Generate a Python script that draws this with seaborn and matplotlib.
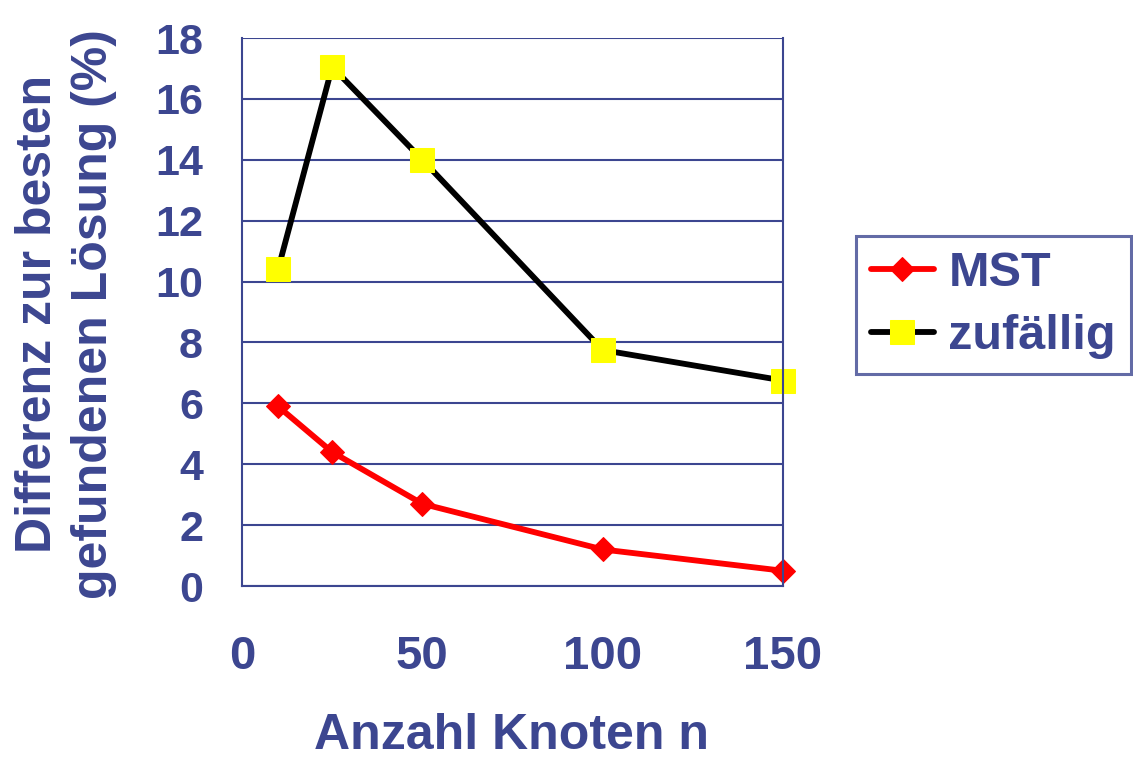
import matplotlib
matplotlib.use("Agg")
import matplotlib.pyplot as plt
import seaborn as sns
import pandas as pd

# ---- data ----
knoten = [10, 25, 50, 100, 150]
mst = [5.9, 4.4, 2.7, 1.2, 0.5]
zufaellig = [10.4, 17.05, 14.0, 7.75, 6.75]
series_names = ["MST", "zufällig"]
x_ticks = [0, 50, 100, 150]
y_ticks = list(range(0, 19, 2))

df = pd.DataFrame({
    "n": knoten * 2,
    "diff": mst + zufaellig,
    "serie": [series_names[0]] * len(knoten) + [series_names[1]] * len(knoten),
})

sns.set_style("white")
plt.rcParams["font.family"] = ["Liberation Sans", "DejaVu Sans"]
plt.rcParams["font.weight"] = "bold"

BLUE = "#3C4690"

fig = plt.figure(figsize=(11.33, 7.6), dpi=100)
ax = fig.add_axes([242 / 1133, 1 - 586 / 760, (783 - 242) / 1133, (586 - 38) / 760])

styles = {
    "MST": dict(color="#FF0000", marker="D", markersize=12.5, markerfacecolor="#FF0000",
                markeredgecolor="#FF0000", linewidth=4.2),
    "zufällig": dict(color="#000000", marker="s", markersize=17, markerfacecolor="#FFFF00",
                     markeredgecolor="#FFFF00", linewidth=4.2),
}
for name in series_names:
    sub = df[df["serie"] == name]
    sns.lineplot(data=sub, x="n", y="diff", ax=ax, label=name, **styles[name])

for ln in ax.get_lines():
    ln.set_clip_on(False)

ax.set_xlim(0, 150)
ax.set_ylim(0, 18)
ax.set_xticks(x_ticks)
ax.set_yticks(y_ticks)
ax.yaxis.grid(True, color=BLUE, linewidth=1.5)
ax.xaxis.grid(False)
for side in ["left", "bottom", "right"]:
    ax.spines[side].set_visible(True)
    ax.spines[side].set_color(BLUE)
    ax.spines[side].set_linewidth(1.5)
ax.spines["top"].set_visible(False)

ax.tick_params(axis="both", direction="out", length=11, width=1.5, color=BLUE,
               labelcolor=BLUE)
ax.tick_params(axis="y", labelsize=31, pad=17)
ax.tick_params(axis="x", labelsize=34, pad=24)
for lab in ax.get_xticklabels() + ax.get_yticklabels():
    lab.set_fontweight("bold")

ax.set_xlabel("")
ax.set_ylabel("")

fig.text(512 / 1133, 1 - 759 / 760, "Anzahl Knoten n", ha="center", va="bottom",
         fontsize=36, fontweight="bold", color=BLUE)

fig.text(66 / 1133, 1 - 314 / 760, "Differenz zur besten\ngefundenen Lösung (%)",
         rotation=90, ha="center", va="center", multialignment="center",
         fontsize=36, fontweight="bold", color=BLUE, linespacing=1.3)

leg = ax.legend(loc="upper left", bbox_to_anchor=(856 / 1133, 1 - 236 / 760),
                bbox_transform=fig.transFigure, frameon=True, fancybox=False,
                fontsize=35, handlelength=1.3, handletextpad=0.3, labelspacing=0.38,
                borderpad=0.3, borderaxespad=0)
frame = leg.get_frame()
frame.set_edgecolor(BLUE)
frame.set_linewidth(2.2)
for t in leg.get_texts():
    t.set_color(BLUE)
    t.set_fontweight("bold")

fig.savefig("out.png", dpi=100)
